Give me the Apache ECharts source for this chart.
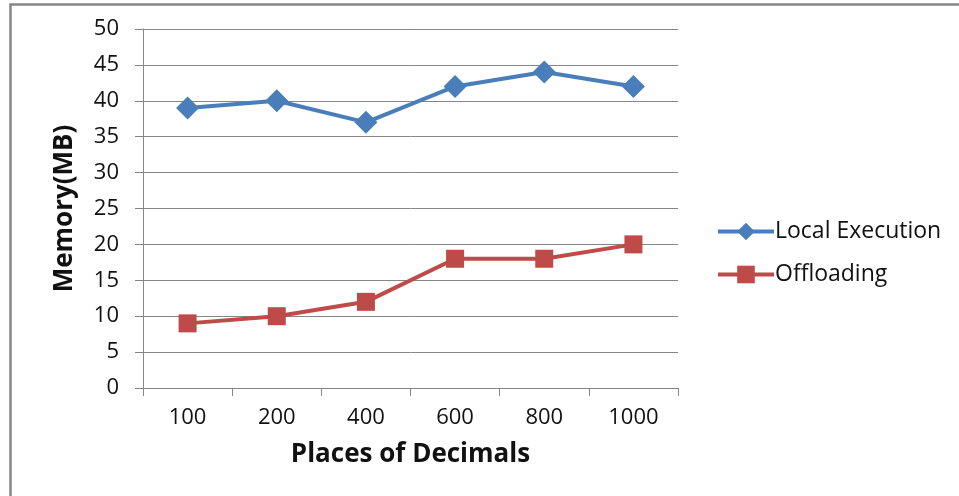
<!DOCTYPE html>
<html>
<head>
<meta charset="utf-8">
<script src="https://cdn.jsdelivr.net/npm/echarts@6/dist/echarts.min.js"></script>
<style>
  html, body { margin: 0; padding: 0; background: #fff; }
  #chart { width: 959px; height: 496px; }
</style>
</head>
<body>
<div id="chart"></div>
<script>
// Memory use by number of decimal places computed
const categories = ['100', '200', '400', '600', '800', '1000'];
const localExecution = [39, 40, 37, 42, 44, 42];
const offloading = [9, 10, 12, 18, 18, 20];
const yTicks = { min: 0, max: 50, interval: 5 };

const FONT = '"Open Sans", "Liberation Sans", sans-serif';
const GREY = '#868686';
const BLUE = '#4a7ebb';
const RED = '#be4b48';

const chart = echarts.init(document.getElementById('chart'), null, { renderer: 'canvas' });

chart.setOption({
  animation: false,
  backgroundColor: '#ffffff',
  textStyle: { fontFamily: FONT },
  graphic: [{
    type: 'rect',
    shape: { x: 10.5, y: 4.5, width: 1000, height: 600 },
    style: { fill: 'none', stroke: GREY, lineWidth: 2.5 },
    silent: true
  }],
  grid: { left: 143, top: 29, width: 535, height: 359, containLabel: false },
  legend: {
    orient: 'vertical',
    left: 711,
    top: 215,
    itemWidth: 56,
    itemHeight: 22,
    itemGap: 20,
    lineStyle: { width: 4 },
    textStyle: { fontFamily: FONT, fontSize: 23, color: '#111', padding: [0, 0, 0, -4] },
    data: ['Local Execution', 'Offloading']
  },
  xAxis: {
    type: 'category',
    data: categories,
    boundaryGap: true,
    name: 'Places of Decimals',
    nameLocation: 'middle',
    nameGap: 54,
    nameTextStyle: { fontFamily: FONT, fontSize: 26, fontWeight: 'bold', color: '#111' },
    axisLine: { show: true, lineStyle: { color: GREY, width: 1 } },
    axisTick: { show: true, alignWithLabel: false, length: 8, lineStyle: { color: GREY } },
    axisLabel: { fontFamily: FONT, fontSize: 22, color: '#111', margin: 19 },
    splitLine: { show: false }
  },
  yAxis: {
    type: 'value',
    min: yTicks.min,
    max: yTicks.max,
    interval: yTicks.interval,
    name: 'Memory(MB)',
    nameLocation: 'middle',
    nameGap: 65,
    nameTextStyle: { fontFamily: FONT, fontSize: 26, fontWeight: 'bold', color: '#111' },
    axisLine: { show: true, lineStyle: { color: GREY, width: 1 } },
    axisTick: { show: true, length: 8, lineStyle: { color: GREY } },
    axisLabel: { fontFamily: FONT, fontSize: 22, color: '#111', margin: 24 },
    splitLine: { show: true, lineStyle: { color: GREY, width: 1 } }
  },
  series: [
    {
      name: 'Local Execution',
      type: 'line',
      data: localExecution,
      symbol: 'diamond',
      symbolSize: 23,
      itemStyle: { color: BLUE },
      lineStyle: { color: BLUE, width: 4 }
    },
    {
      name: 'Offloading',
      type: 'line',
      data: offloading,
      symbol: 'rect',
      symbolSize: 18,
      itemStyle: { color: RED },
      lineStyle: { color: RED, width: 4 }
    }
  ]
});
</script>
</body>
</html>
